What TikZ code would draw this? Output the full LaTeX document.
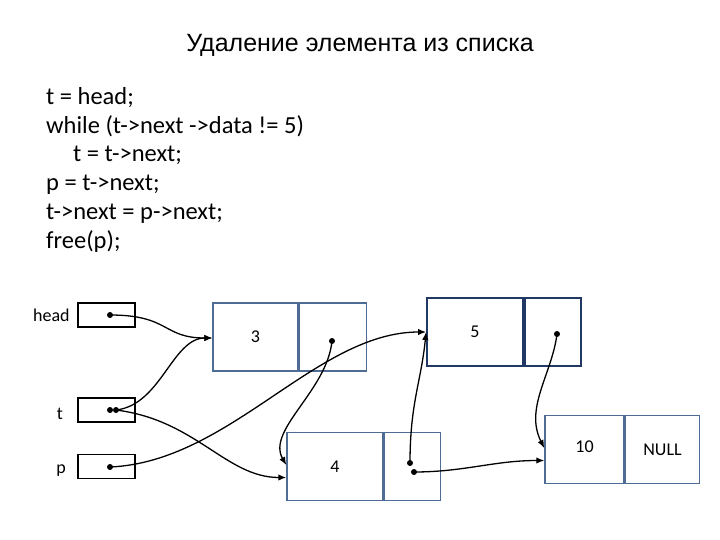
\documentclass[tikz,border=0pt]{standalone}
\usepackage{fontspec}
\setmainfont{Carlito}
\newfontfamily\titlefont{Liberation Sans}
\usetikzlibrary{positioning, arrows.meta}
\begin{document}
\begin{tikzpicture}[x=1pt, y=-1pt,
    every node/.style={font=\fontsize{18}{21}\selectfont},
    ptrbox/.style={draw, line width=1.6pt, minimum width=57pt, minimum height=24pt, inner sep=0pt},
    cellbox/.style={draw=cellblue, line width=1.5pt, minimum height=68pt, inner sep=0pt},
    dot/.style={circle, fill, inner sep=0pt, minimum size=6pt},
    link/.style={-{Latex[length=8pt,width=6.5pt]}, line width=1.3pt}]
    \definecolor{cellblue}{HTML}{4F6C96}
    \definecolor{darkblue}{HTML}{1F3864}
    \useasboundingbox (0,0) rectangle (720,540);

    % Title
    \node[font=\titlefont\fontsize{25}{28}\selectfont] (title) at (360,45) {Удаление элемента из списка};

    % Code
    \node[anchor=north west, align=left, inner sep=0pt, font=\fontsize{24.5}{28.8}\selectfont] (code) at (46,87)
      {t = head;\\
       while (t->next ->data != 5)\\
       \hspace*{27pt}t = t->next;\\
       p = t->next;\\
       t->next = p->next;\\
       free(p);};

    % Pointers
    \node[ptrbox] (head) at (106.5,315) {};
    \node[ptrbox] (t) at (106.5,410) {};
    \node[ptrbox] (p) at (106.5,466.5) {};
    \node[left=4pt of head] (headlbl) {head};
    \node (tlbl) at (60,414) {t};
    \node (plbl) at (61,471) {p};

    % Element 3
    \node[cellbox, minimum width=85pt] (d3) at (255.5,337) {3};
    \node[cellbox, minimum width=67pt, anchor=west] (n3) at (d3.east) {};
    % Element 5
    \node[cellbox, draw=darkblue, line width=1.8pt, minimum width=96pt] (d5) at (475,332) {5};
    \node[cellbox, draw=darkblue, line width=1.8pt, minimum width=56pt, anchor=west] (n5) at (d5.east) {};
    % Element 4
    \node[cellbox, minimum width=96pt] (d4) at (335,466.5) {4};
    \node[cellbox, minimum width=56pt, anchor=west] (n4) at (d4.east) {};
    % Element 10
    \node[cellbox, minimum width=79pt] (d10) at (584.5,449.5) {\raisebox{5pt}{10}};
    \node[cellbox, minimum width=74pt, anchor=west] (n10) at (d10.east) {\raisebox{-4pt}{NULL}};

    % Dots
    \node[dot] (hd) at (110,315) {};
    \node[dot] (td1) at (110,410) {};
    \node[dot] (td2) at (116,410) {};
    \node[dot] (pd) at (110,467) {};
    \node[dot] (n3d) at (332,341) {};
    \node[dot] (n5d) at (557,334) {};
    \node[dot] (n4d1) at (410,463) {};
    \node[dot] (n4d2) at (414,472) {};

    % Arrows
    \draw[link] (hd.center) .. controls +(60,0) and +(-50,0) .. ([yshift=-1pt]d3.west);
    \draw[link] (td2.center) .. controls +(45,-5) and +(-40,0) .. ([yshift=-1pt]d3.west);
    \draw[link] (td2.center) .. controls +(80,10) and +(-60,0) .. ([yshift=-11pt]d4.west);
    \draw[link] (pd.center) .. controls +(120,-5) and +(-110,0) .. (d5.west);
    \draw[link] (n3d.center) .. controls +(-5,50) and +(-20,-35) .. ([yshift=1.5pt]d4.west);
    \draw[link] (n4d1.center) .. controls +(0,-60) and +(-5,50) .. (d5.west);
    \draw[link] (n4d2.center) .. controls +(50,0) and +(-50,0) .. ([yshift=-11pt]d10.west);
    \draw[link] (n5d.center) .. controls +(-5,40) and +(-20,-40) .. ([yshift=1.5pt]d10.west);
\end{tikzpicture}
\end{document}
